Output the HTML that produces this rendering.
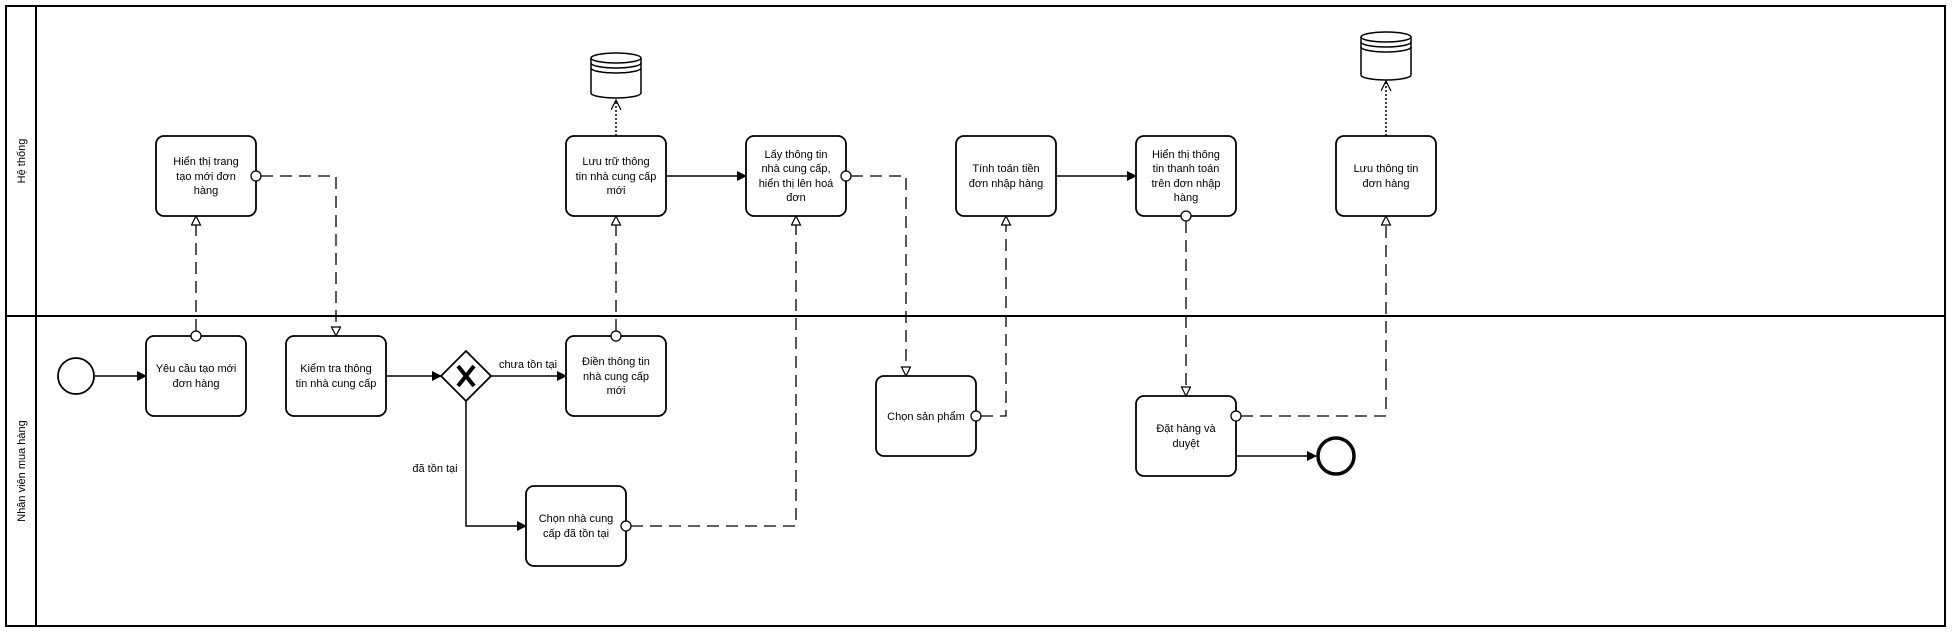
<!DOCTYPE html>
<html><head><meta charset="utf-8"><style>
html,body{margin:0;padding:0;background:#fff;}
svg{display:block;}
text{font-family:"Liberation Sans",Arial,sans-serif;font-size:11px;fill:#000;}
</style></head><body>
<svg width="1952" height="632" viewBox="0 0 1952 632" xmlns="http://www.w3.org/2000/svg">
<defs>
<marker id="af" markerWidth="10" markerHeight="10" refX="9" refY="5" orient="auto" markerUnits="userSpaceOnUse"><path d="M0,0 L10,5 L0,10 z" fill="#000"/></marker>
<marker id="ao" markerWidth="12" markerHeight="12" refX="10" refY="5" orient="auto" markerUnits="userSpaceOnUse"><path d="M1,0.5 L10,5 L1,9.5 z" fill="#fff" stroke="#000" stroke-width="1.2"/></marker>
<marker id="av" markerWidth="12" markerHeight="12" refX="10" refY="5" orient="auto" markerUnits="userSpaceOnUse"><path d="M0,0 L10,5 L0,10" fill="none" stroke="#000" stroke-width="1.2"/></marker>
</defs>
<rect x="6" y="6" width="1939" height="620" fill="none" stroke="#000" stroke-width="2"/>
<line x1="36" y1="6" x2="36" y2="626" stroke="#000" stroke-width="2"/>
<line x1="6" y1="316" x2="1945" y2="316" stroke="#000" stroke-width="2"/>
<text transform="translate(25,161) rotate(-90)" text-anchor="middle">Hệ thống</text>
<text transform="translate(25,471) rotate(-90)" text-anchor="middle">Nhân viên mua hàng</text>

<g fill="none" stroke="#000" stroke-width="1.5">
<line x1="95" y1="376" x2="146" y2="376" marker-end="url(#af)"/>
<line x1="386" y1="376" x2="441" y2="376" marker-end="url(#af)"/>
<line x1="491" y1="376" x2="566" y2="376" marker-end="url(#af)"/>
<polyline points="466,401 466,526 526,526" marker-end="url(#af)"/>
<line x1="666" y1="176" x2="746" y2="176" marker-end="url(#af)"/>
<line x1="1055" y1="176" x2="1136" y2="176" marker-end="url(#af)"/>
<line x1="1236" y1="456" x2="1316" y2="456" marker-end="url(#af)"/>
</g>
<g fill="none" stroke="#000" stroke-width="1.3" stroke-dasharray="12,7">
<line x1="196" y1="331" x2="196" y2="216" marker-end="url(#ao)"/>
<polyline points="261,176 336,176 336,336" marker-end="url(#ao)"/>
<line x1="616" y1="331" x2="616" y2="216" marker-end="url(#ao)"/>
<polyline points="631,526 796,526 796,216" marker-end="url(#ao)"/>
<polyline points="851,176 906,176 906,376" marker-end="url(#ao)"/>
<polyline points="981,416 1006,416 1006,216" marker-end="url(#ao)"/>
<line x1="1186" y1="221" x2="1186" y2="396" marker-end="url(#ao)"/>
<polyline points="1241,416 1386,416 1386,216" marker-end="url(#ao)"/>
</g>
<g fill="none" stroke="#000" stroke-width="1.5" stroke-dasharray="2,2">
<line x1="616" y1="136" x2="616" y2="100" marker-end="url(#av)"/>
<line x1="1386" y1="136" x2="1386" y2="81" marker-end="url(#av)"/>
</g>

<g fill="#fff" stroke="#000" stroke-width="1.8">
<rect x="156" y="136" width="100" height="80" rx="8"/>
<rect x="566" y="136" width="100" height="80" rx="8"/>
<rect x="746" y="136" width="100" height="80" rx="8"/>
<rect x="956" y="136" width="100" height="80" rx="8"/>
<rect x="1136" y="136" width="100" height="80" rx="8"/>
<rect x="1336" y="136" width="100" height="80" rx="8"/>
<rect x="146" y="336" width="100" height="80" rx="8"/>
<rect x="286" y="336" width="100" height="80" rx="8"/>
<rect x="566" y="336" width="100" height="80" rx="8"/>
<rect x="526" y="486" width="100" height="80" rx="8"/>
<rect x="876" y="376" width="100" height="80" rx="8"/>
<rect x="1136" y="396" width="100" height="80" rx="8"/>
<circle cx="76" cy="376" r="18"/>
<circle cx="1336" cy="456" r="18" stroke-width="3.5"/>
<polygon points="466,351 491,376 466,401 441,376"/>
</g>
<path d="M458,366 L474,386 M474,366 L458,386" stroke="#000" stroke-width="4"/>

<g fill="#fff" stroke="#000" stroke-width="1.3">
<circle cx="196" cy="336" r="5"/>
<circle cx="256" cy="176" r="5"/>
<circle cx="616" cy="336" r="5"/>
<circle cx="626" cy="526" r="5"/>
<circle cx="846" cy="176" r="5"/>
<circle cx="976" cy="416" r="5"/>
<circle cx="1186" cy="216" r="5"/>
<circle cx="1236" cy="416" r="5"/>
</g>

<g fill="#fff" stroke="#000" stroke-width="1.5">
<path d="M591,58 L591,93 A25,5 0 0 0 641,93 L641,58"/>
<ellipse cx="616" cy="58" rx="25" ry="5"/>
<path d="M591,63 A25,5 0 0 0 641,63 M591,68 A25,5 0 0 0 641,68" fill="none"/>
<path d="M1361,37 L1361,75 A25,5 0 0 0 1411,75 L1411,37"/>
<ellipse cx="1386" cy="37" rx="25" ry="5"/>
<path d="M1361,42 A25,5 0 0 0 1411,42 M1361,47 A25,5 0 0 0 1411,47" fill="none"/>
</g>

<g text-anchor="middle">
<text x="206" y="165">Hiển thị trang</text><text x="206" y="180">tạo mới đơn</text><text x="206" y="194">hàng</text>
<text x="616" y="165">Lưu trữ thông</text><text x="616" y="180">tin nhà cung cấp</text><text x="616" y="194">mới</text>
<text x="796" y="158">Lấy thông tin</text><text x="796" y="172">nhà cung cấp,</text><text x="796" y="187">hiển thị lên hoá</text><text x="796" y="201">đơn</text>
<text x="1006" y="172">Tính toán tiền</text><text x="1006" y="187">đơn nhập hàng</text>
<text x="1186" y="158">Hiển thị thông</text><text x="1186" y="172">tin thanh toán</text><text x="1186" y="187">trên đơn nhập</text><text x="1186" y="201">hàng</text>
<text x="1386" y="172">Lưu thông tin</text><text x="1386" y="187">đơn hàng</text>
<text x="196" y="372">Yêu cầu tạo mới</text><text x="196" y="387">đơn hàng</text>
<text x="336" y="372">Kiểm tra thông</text><text x="336" y="387">tin nhà cung cấp</text>
<text x="616" y="365">Điền thông tin</text><text x="616" y="380">nhà cung cấp</text><text x="616" y="394">mới</text>
<text x="576" y="522">Chọn nhà cung</text><text x="576" y="537">cấp đã tồn tại</text>
<text x="926" y="420">Chọn sản phẩm</text>
<text x="1186" y="432">Đặt hàng và</text><text x="1186" y="447">duyệt</text>
<text x="528" y="368" font-size="10">chưa tồn tại</text>
<text x="435" y="472" font-size="10">đã tồn tại</text>
</g>
</svg>
</body></html>
